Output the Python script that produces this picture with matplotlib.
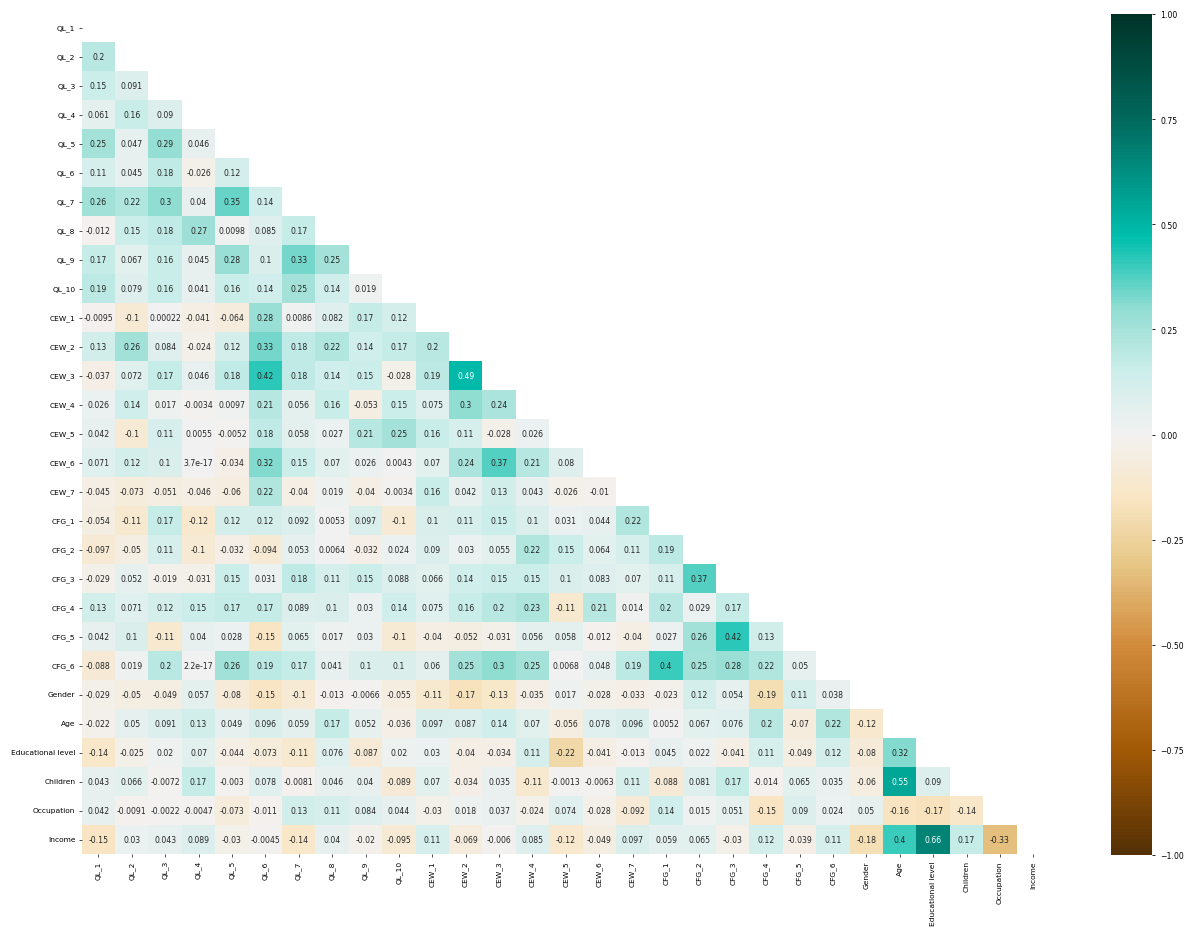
import numpy as np
import pandas as pd
import matplotlib
matplotlib.use("Agg")
import matplotlib.pyplot as plt
import seaborn as sns
from matplotlib.colors import LinearSegmentedColormap

labels = ["QL_1", "QL_2", "QL_3", "QL_4", "QL_5", "QL_6", "QL_7", "QL_8", "QL_9", "QL_10",
          "CEW_1", "CEW_2", "CEW_3", "CEW_4", "CEW_5", "CEW_6", "CEW_7",
          "CFG_1", "CFG_2", "CFG_3", "CFG_4", "CFG_5", "CFG_6",
          "Gender", "Age", "Educational level", "Children", "Occupation", "Income"]

r_QL_1 = []
r_QL_2 = [0.2]
r_QL_3 = [0.15, 0.091]
r_QL_4 = [0.061, 0.16, 0.09]
r_QL_5 = [0.25, 0.047, 0.29, 0.046]
r_QL_6 = [0.11, 0.045, 0.18, -0.026, 0.12]
r_QL_7 = [0.26, 0.22, 0.3, 0.04, 0.35, 0.14]
r_QL_8 = [-0.012, 0.15, 0.18, 0.27, 0.0098, 0.085, 0.17]
r_QL_9 = [0.17, 0.067, 0.16, 0.045, 0.28, 0.1, 0.33, 0.25]
r_QL_10 = [0.19, 0.079, 0.16, 0.041, 0.16, 0.14, 0.25, 0.14, 0.019]
r_CEW_1 = [-0.0095, -0.1, 0.00022, -0.041, -0.064, 0.28, 0.0086, 0.082, 0.17, 0.12]
r_CEW_2 = [0.13, 0.26, 0.084, -0.024, 0.12, 0.33, 0.18, 0.22, 0.14, 0.17, 0.2]
r_CEW_3 = [-0.037, 0.072, 0.17, 0.046, 0.18, 0.42, 0.18, 0.14, 0.15, -0.028, 0.19, 0.49]
r_CEW_4 = [0.026, 0.14, 0.017, -0.0034, 0.0097, 0.21, 0.056, 0.16, -0.053, 0.15, 0.075, 0.3, 0.24]
r_CEW_5 = [0.042, -0.1, 0.11, 0.0055, -0.0052, 0.18, 0.058, 0.027, 0.21, 0.25, 0.16, 0.11, -0.028, 0.026]
r_CEW_6 = [0.071, 0.12, 0.1, 3.7e-17, -0.034, 0.32, 0.15, 0.07, 0.026, 0.0043, 0.07, 0.24, 0.37, 0.21, 0.08]
r_CEW_7 = [-0.045, -0.073, -0.051, -0.046, -0.06, 0.22, -0.04, 0.019, -0.04, -0.0034, 0.16, 0.042, 0.13,
           0.043, -0.026, -0.01]
r_CFG_1 = [-0.054, -0.11, 0.17, -0.12, 0.12, 0.12, 0.092, 0.0053, 0.097, -0.1, 0.1, 0.11, 0.15, 0.1,
           0.031, 0.044, 0.22]
r_CFG_2 = [-0.097, -0.05, 0.11, -0.1, -0.032, -0.094, 0.053, 0.0064, -0.032, 0.024, 0.09, 0.03, 0.055,
           0.22, 0.15, 0.064, 0.11, 0.19]
r_CFG_3 = [-0.029, 0.052, -0.019, -0.031, 0.15, 0.031, 0.18, 0.11, 0.15, 0.088, 0.066, 0.14, 0.15, 0.15,
           0.1, 0.083, 0.07, 0.11, 0.37]
r_CFG_4 = [0.13, 0.071, 0.12, 0.15, 0.17, 0.17, 0.089, 0.1, 0.03, 0.14, 0.075, 0.16, 0.2, 0.23, -0.11,
           0.21, 0.014, 0.2, 0.029, 0.17]
r_CFG_5 = [0.042, 0.1, -0.11, 0.04, 0.028, -0.15, 0.065, 0.017, 0.03, -0.1, -0.04, -0.052, -0.031,
           0.056, 0.058, -0.012, -0.04, 0.027, 0.26, 0.42, 0.13]
r_CFG_6 = [-0.088, 0.019, 0.2, 2.2e-17, 0.26, 0.19, 0.17, 0.041, 0.1, 0.1, 0.06, 0.25, 0.3, 0.25,
           0.0068, 0.048, 0.19, 0.4, 0.25, 0.28, 0.22, 0.05]
r_Gender = [-0.029, -0.05, -0.049, 0.057, -0.08, -0.15, -0.1, -0.013, -0.0066, -0.055, -0.11, -0.17,
            -0.13, -0.035, 0.017, -0.028, -0.033, -0.023, 0.12, 0.054, -0.19, 0.11, 0.038]
r_Age = [-0.022, 0.05, 0.091, 0.13, 0.049, 0.096, 0.059, 0.17, 0.052, -0.036, 0.097, 0.087, 0.14, 0.07,
         -0.056, 0.078, 0.096, 0.0052, 0.067, 0.076, 0.2, -0.07, 0.22, -0.12]
r_Edu = [-0.14, -0.025, 0.02, 0.07, -0.044, -0.073, -0.11, 0.076, -0.087, 0.02, 0.03, -0.04, -0.034,
         0.11, -0.22, -0.041, -0.013, 0.045, 0.022, -0.041, 0.11, -0.049, 0.12, -0.08, 0.32]
r_Children = [0.043, 0.066, -0.0072, 0.17, -0.003, 0.078, -0.0081, 0.046, 0.04, -0.089, 0.07, -0.034,
              0.035, -0.11, -0.0013, -0.0063, 0.11, -0.088, 0.081, 0.17, -0.014, 0.065, 0.035, -0.06,
              0.55, 0.09]
r_Occupation = [0.042, -0.0091, -0.0022, -0.0047, -0.073, -0.011, 0.13, 0.11, 0.084, 0.044, -0.03,
                0.018, 0.037, -0.024, 0.074, -0.028, -0.092, 0.14, 0.015, 0.051, -0.15, 0.09, 0.024,
                0.05, -0.16, -0.17, -0.14]
r_Income = [-0.15, 0.03, 0.043, 0.089, -0.03, -0.0045, -0.14, 0.04, -0.02, -0.095, 0.11, -0.069,
            -0.006, 0.085, -0.12, -0.049, 0.097, 0.059, 0.065, -0.03, 0.12, -0.039, 0.11, -0.18, 0.4,
            0.66, 0.17, -0.33]

rows = [r_QL_1, r_QL_2, r_QL_3, r_QL_4, r_QL_5, r_QL_6, r_QL_7, r_QL_8, r_QL_9, r_QL_10,
        r_CEW_1, r_CEW_2, r_CEW_3, r_CEW_4, r_CEW_5, r_CEW_6, r_CEW_7,
        r_CFG_1, r_CFG_2, r_CFG_3, r_CFG_4, r_CFG_5, r_CFG_6,
        r_Gender, r_Age, r_Edu, r_Children, r_Occupation, r_Income]

n = len(labels)
corr = np.eye(n)
for i, row in enumerate(rows):
    for j, v in enumerate(row):
        corr[i, j] = v
        corr[j, i] = v
df = pd.DataFrame(corr, index=labels, columns=labels)
mask = np.triu(np.ones_like(corr, dtype=bool))

cmap = LinearSegmentedColormap.from_list("custom", [
    (0.0, "#543005"),
    (0.125, "#a35a06"),
    (0.25, "#d28c3c"),
    (0.35, "#e8c98a"),
    (0.425, "#f9e6c4"),
    (0.5, "#f2f1f1"),
    (0.575, "#cdeeea"),
    (0.65, "#92ddd2"),
    (0.735, "#00bfae"),
    (0.875, "#01695d"),
    (1.0, "#003328"),
])

fig = plt.figure(figsize=(11.86, 9.29), dpi=100)
ax = fig.add_axes([81.7 / 1186, 1 - 855 / 929, (1050 - 81.7) / 1186, 841 / 929])
cax = fig.add_axes([1111 / 1186, 1 - 856 / 929, 41 / 1186, 841 / 929])

sns.heatmap(df, mask=mask, cmap=cmap, vmin=-1, vmax=1, annot=True, fmt=".2g",
            annot_kws={"size": 5.6}, ax=ax, cbar_ax=cax)
ax.tick_params(labelsize=5.4, length=2.5, width=0.6, pad=2, color="#333333")
ax.set_yticklabels(labels, rotation=0)
ax.set_xticklabels(labels, rotation=90)
cax.tick_params(labelsize=5.6, length=2.5, width=0.6)
cax.set_yticks([-1, -0.75, -0.5, -0.25, 0, 0.25, 0.5, 0.75, 1])
cax.set_yticklabels(["\u22121.00", "\u22120.75", "\u22120.50", "\u22120.25", "0.00", "0.25", "0.50",
                     "0.75", "1.00"])

fig.savefig("out.png", dpi=100)
